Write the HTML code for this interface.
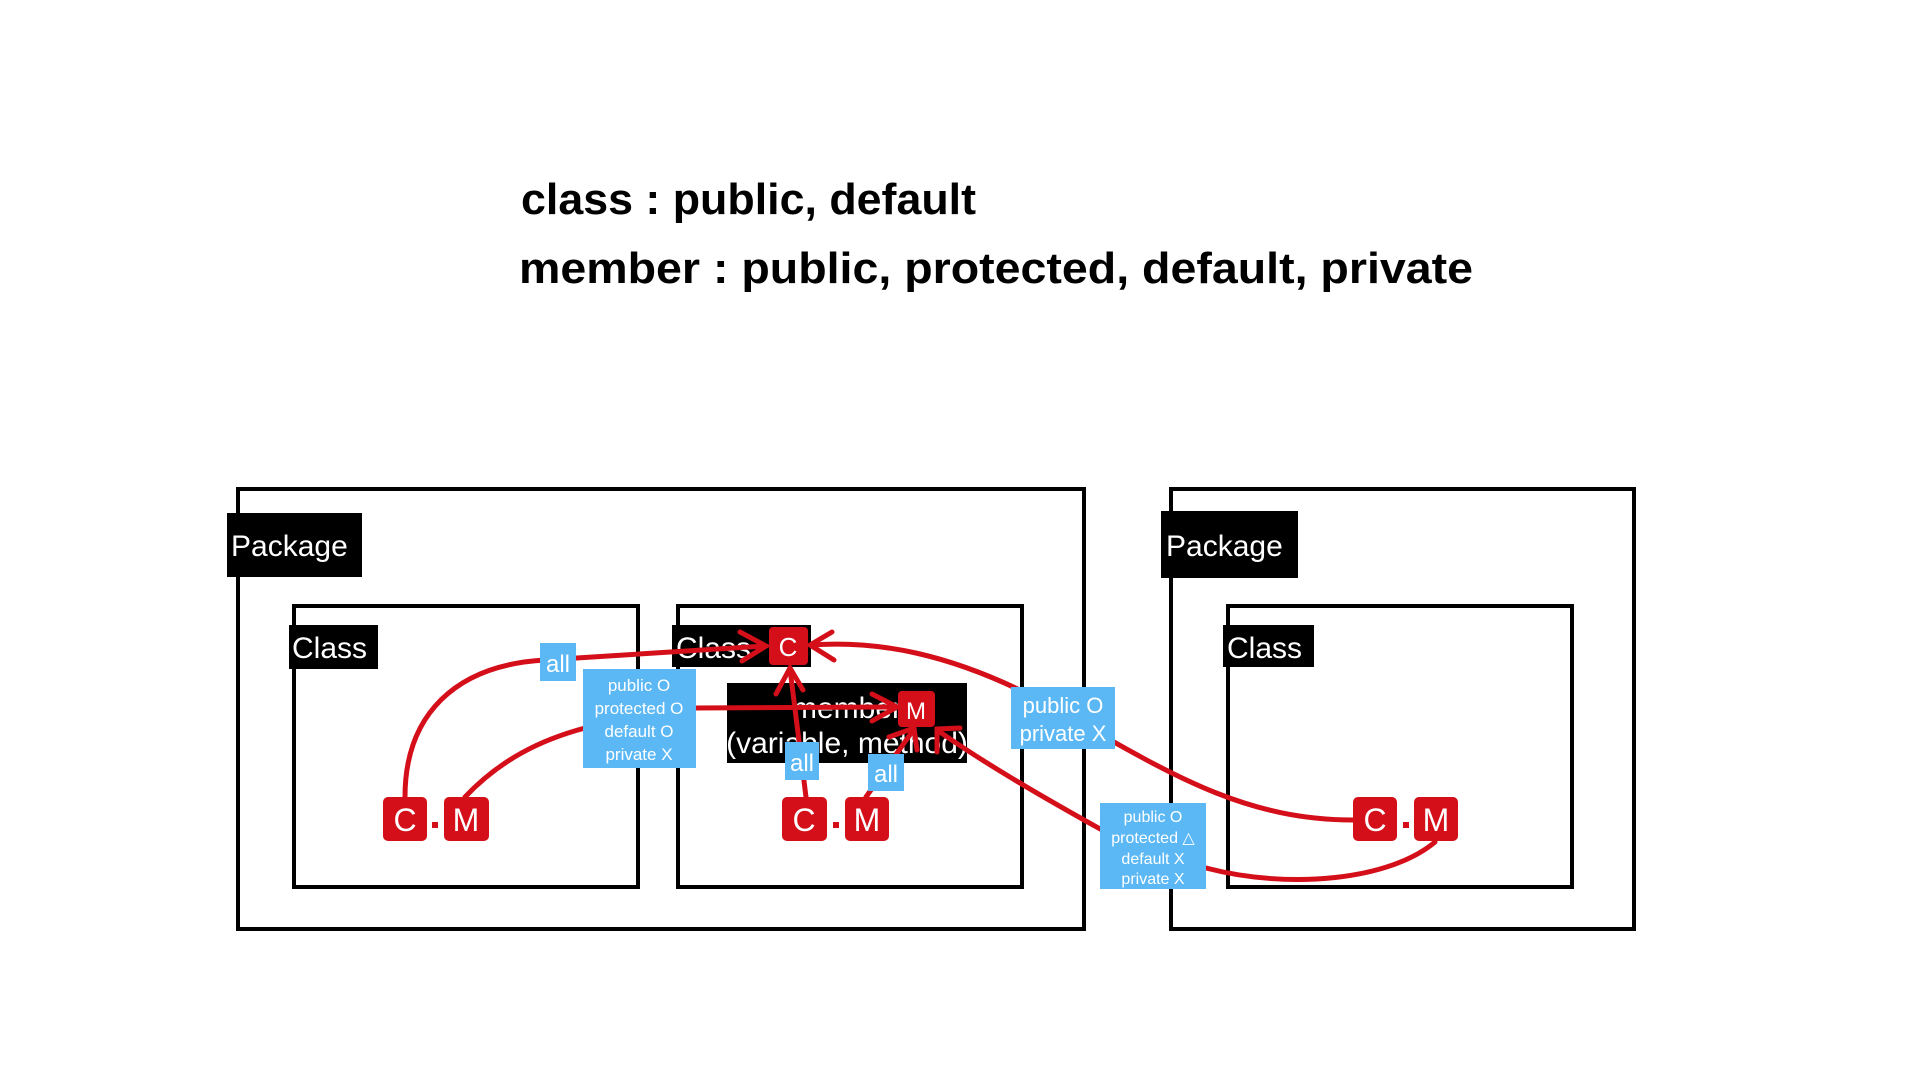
<!DOCTYPE html>
<html><head><meta charset="utf-8"><style>
html,body{margin:0;padding:0;background:#fff;width:1920px;height:1080px;overflow:hidden}
svg{display:block}
text{font-family:"Liberation Sans",sans-serif}
</style></head><body>
<svg width="1920" height="1080" viewBox="0 0 1920 1080" xmlns="http://www.w3.org/2000/svg">
<rect width="1920" height="1080" fill="#fff"/>
<text x="521" y="214" font-size="44" font-weight="bold" textLength="455" lengthAdjust="spacingAndGlyphs">class : public, default</text>
<text x="519" y="283" font-size="44" font-weight="bold" textLength="954" lengthAdjust="spacingAndGlyphs">member : public, protected, default, private</text>

<g fill="none" stroke="#000" stroke-width="4">
<rect x="238" y="489" width="846" height="440"/>
<rect x="294" y="606" width="344" height="281"/>
<rect x="678" y="606" width="344" height="281"/>
<rect x="1171" y="489" width="463" height="440"/>
<rect x="1228" y="606" width="344" height="281"/>
</g>
<g fill="#000">
<rect x="227" y="513" width="135" height="64"/>
<rect x="1161" y="511" width="137" height="67"/>
<rect x="289" y="625" width="89" height="44"/>
<rect x="672" y="625" width="139" height="42"/>
<rect x="1223" y="625" width="91" height="42"/>
<rect x="727" y="683" width="240" height="80"/>
</g>
<g fill="#fff" font-size="30">
<text x="231" y="556">Package</text>
<text x="1166" y="556">Package</text>
<text x="292" y="658">Class</text>
<text x="676" y="658">Class</text>
<text x="1227" y="658">Class</text>
<text x="847" y="718" text-anchor="middle">member</text>
<text x="847" y="753" text-anchor="middle">(variable, method)</text>
</g>

<g fill="none" stroke="#d40f1a" stroke-width="5" stroke-linecap="round">
<path d="M405,797 C405,715 455,665 545,660 L765,646"/>
<polyline points="740,632 766,646 742,661"/>
<path d="M465,797 C500,760 540,740 585,728 L696,708 L896,707"/>
<polyline points="872,694 897,707 872,721"/>
<path d="M806,797 L790,669"/>
<polyline points="776,694 790,668 803,690"/>
<path d="M866,797 L914,729"/>
<polyline points="889,737 914,728 917,750"/>
<path d="M1353,820 C1230,820 1150,760 1030,695 C950,655 880,640 811,645"/>
<polyline points="832,632 810,645 834,660"/>
<path d="M1435,842 C1390,880 1290,890 1206,868 M1102,830 C1030,790 980,760 937,730"/>
<polyline points="937,752 937,729 960,728"/>
</g>

<g fill="#d40f1a">
<rect x="383" y="797" width="44" height="44" rx="5"/>
<rect x="444" y="797" width="45" height="44" rx="5"/>
<rect x="432" y="822" width="6" height="6"/>
<rect x="782" y="797" width="45" height="44" rx="5"/>
<rect x="845" y="797" width="44" height="44" rx="5"/>
<rect x="833" y="822" width="6" height="6"/>
<rect x="1353" y="797" width="44" height="44" rx="5"/>
<rect x="1414" y="797" width="44" height="44" rx="5"/>
<rect x="1403" y="822" width="6" height="6"/>
<rect x="769" y="627" width="39" height="38" rx="4"/>
<rect x="898" y="691" width="37" height="36" rx="4"/>
</g>
<g fill="#fff" font-size="32" text-anchor="middle">
<text x="405" y="831">C</text><text x="466" y="831">M</text>
<text x="804" y="831">C</text><text x="867" y="831">M</text>
<text x="1375" y="831">C</text><text x="1436" y="831">M</text>
<text x="788" y="656" font-size="26">C</text>
<text x="916" y="719" font-size="24">M</text>
</g>

<g fill="#5bb8f5">
<rect x="540" y="643" width="36" height="38"/>
<rect x="583" y="669" width="113" height="99"/>
<rect x="785" y="742" width="34" height="38"/>
<rect x="868" y="754" width="36" height="37"/>
<rect x="1011" y="687" width="104" height="62"/>
<rect x="1100" y="803" width="106" height="86"/>
</g>
<g fill="#fff" text-anchor="middle">
<text x="558" y="672" font-size="24">all</text>
<text x="802" y="771" font-size="24">all</text>
<text x="886" y="782" font-size="24">all</text>
<g font-size="17">
<text x="639" y="691">public O</text>
<text x="639" y="714">protected O</text>
<text x="639" y="737">default O</text>
<text x="639" y="760">private X</text>
</g>
<g font-size="22">
<text x="1063" y="713">public O</text>
<text x="1063" y="741">private X</text>
</g>
<g font-size="16">
<text x="1153" y="822">public O</text>
<text x="1153" y="843">protected △</text>
<text x="1153" y="864">default X</text>
<text x="1153" y="884">private X</text>
</g>
</g>
</svg>
</body></html>
